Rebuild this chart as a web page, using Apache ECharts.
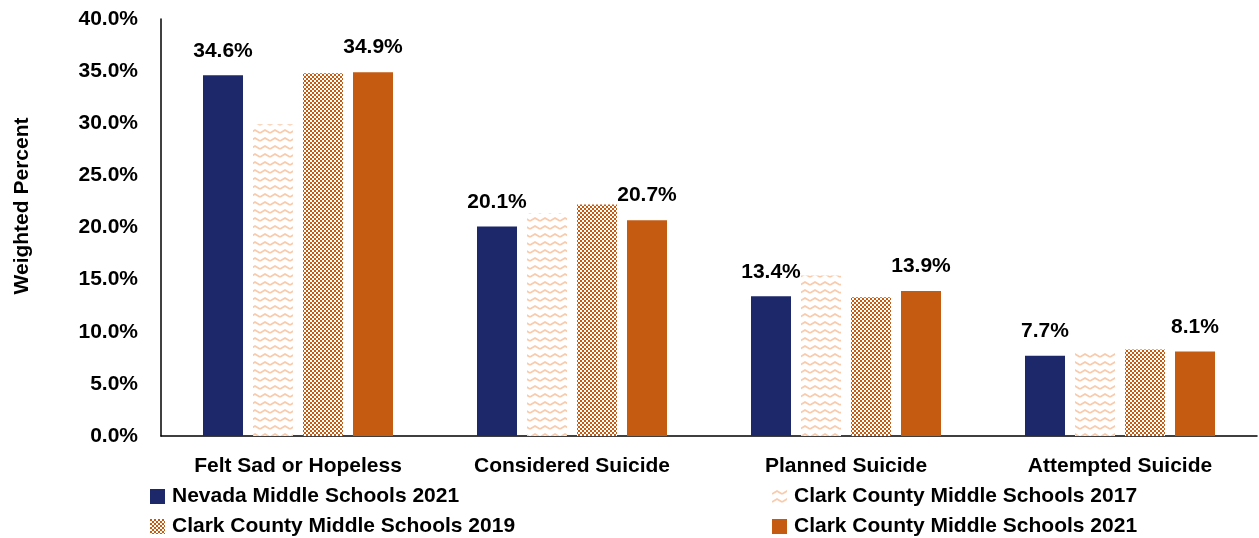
<!DOCTYPE html>
<html>
<head>
<meta charset="utf-8">
<script src="https://cdn.jsdelivr.net/npm/echarts@6/dist/echarts.min.js"></script>
<style>
  html, body { margin: 0; padding: 0; background: #fff; }
  #chart { width: 1259px; height: 538px; }
</style>
</head>
<body>
<div id="chart"></div>
<script>
// Suicide-related indicators, weighted percent
const categories = ['Felt Sad or Hopeless', 'Considered Suicide', 'Planned Suicide', 'Attempted Suicide'];
const nevada2021 = [34.6, 20.1, 13.4, 7.7];
const clark2017 = [29.9, 21.4, 15.4, 8.2];
const clark2019 = [34.8, 22.2, 13.3, 8.3];
const clark2021 = [34.9, 20.7, 13.9, 8.1];
const seriesNames = [
  'Nevada Middle Schools 2021',
  'Clark County Middle Schools 2017',
  'Clark County Middle Schools 2019',
  'Clark County Middle Schools 2021'
];

const NAVY = '#1c2869';
const ORANGE = '#c55a11';
const PEACH = '#f8cbad';
const FONT = '"Liberation Sans", Arial, sans-serif';
const FS = 21;

// light zigzag fill
function zigzagPattern() {
  const c = document.createElement('canvas');
  c.width = 10; c.height = 8;
  const g = c.getContext('2d');
  g.fillStyle = '#fff';
  g.fillRect(0, 0, 10, 8);
  g.strokeStyle = PEACH;
  g.lineWidth = 1.8;
  g.beginPath();
  g.moveTo(0, 5); g.lineTo(5, 2); g.lineTo(10, 5);
  g.stroke();
  return { image: c, repeat: 'repeat' };
}

// small checkerboard fill
function checkerPattern() {
  const c = document.createElement('canvas');
  c.width = 4; c.height = 4;
  const g = c.getContext('2d');
  g.fillStyle = '#fff';
  g.fillRect(0, 0, 4, 4);
  g.fillStyle = ORANGE;
  g.fillRect(0, 0, 2, 2);
  g.fillRect(2, 2, 2, 2);
  return { image: c, repeat: 'repeat' };
}

const valueLabel = {
  show: true,
  position: 'top',
  distance: 14,
  color: '#000',
  fontWeight: 'bold',
  fontSize: FS,
  fontFamily: FONT,
  formatter: p => p.value.toFixed(1) + '%'
};

// one legend entry per slot, two rows by two columns
function legendAt(name, left, top) {
  return {
    data: [name],
    left: left, top: top,
    padding: 0,
    icon: 'rect',
    itemWidth: 15, itemHeight: 15, itemGap: 6,
    textStyle: { fontWeight: 'bold', fontSize: FS, color: '#000', fontFamily: FONT, padding: [0, 0, 0, 2] },
    selectedMode: false
  };
}

const chart = echarts.init(document.getElementById('chart'), null, { renderer: 'canvas' });
chart.setOption({
  animation: false,
  backgroundColor: '#fff',
  textStyle: { fontFamily: FONT },
  grid: { left: 161, right: 2, top: 19, bottom: 102, containLabel: false },
  legend: [
    legendAt(seriesNames[0], 150, 486),
    legendAt(seriesNames[2], 150, 516),
    legendAt(seriesNames[1], 772, 486),
    legendAt(seriesNames[3], 772, 516)
  ],
  graphic: [{
    type: 'text',
    x: 22, y: 206,
    rotation: Math.PI / 2,
    style: {
      text: 'Weighted Percent',
      fill: '#000',
      font: 'bold ' + FS + 'px ' + FONT,
      align: 'center',
      verticalAlign: 'middle'
    }
  }],
  xAxis: {
    type: 'category',
    data: categories,
    axisLine: { lineStyle: { color: '#000', width: 1.5 } },
    axisTick: { show: false },
    axisLabel: { color: '#000', fontWeight: 'bold', fontSize: FS, margin: 20, fontFamily: FONT }
  },
  yAxis: {
    type: 'value',
    min: 0, max: 40, interval: 5,
    axisLine: { show: true, lineStyle: { color: '#000', width: 1.5 } },
    axisTick: { show: false },
    splitLine: { show: false },
    axisLabel: {
      color: '#000', fontWeight: 'bold', fontSize: FS, margin: 23, fontFamily: FONT,
      formatter: v => v.toFixed(1) + '%'
    }
  },
  series: [
    { name: seriesNames[0], type: 'bar', data: nevada2021, barWidth: 40, barGap: '25%',
      itemStyle: { color: NAVY }, label: valueLabel },
    { name: seriesNames[1], type: 'bar', data: clark2017, barWidth: 40, barGap: '25%',
      itemStyle: { color: zigzagPattern() } },
    { name: seriesNames[2], type: 'bar', data: clark2019, barWidth: 40, barGap: '25%',
      itemStyle: { color: checkerPattern() } },
    { name: seriesNames[3], type: 'bar', data: clark2021, barWidth: 40, barGap: '25%',
      itemStyle: { color: ORANGE }, label: valueLabel }
  ]
});
</script>
</body>
</html>
